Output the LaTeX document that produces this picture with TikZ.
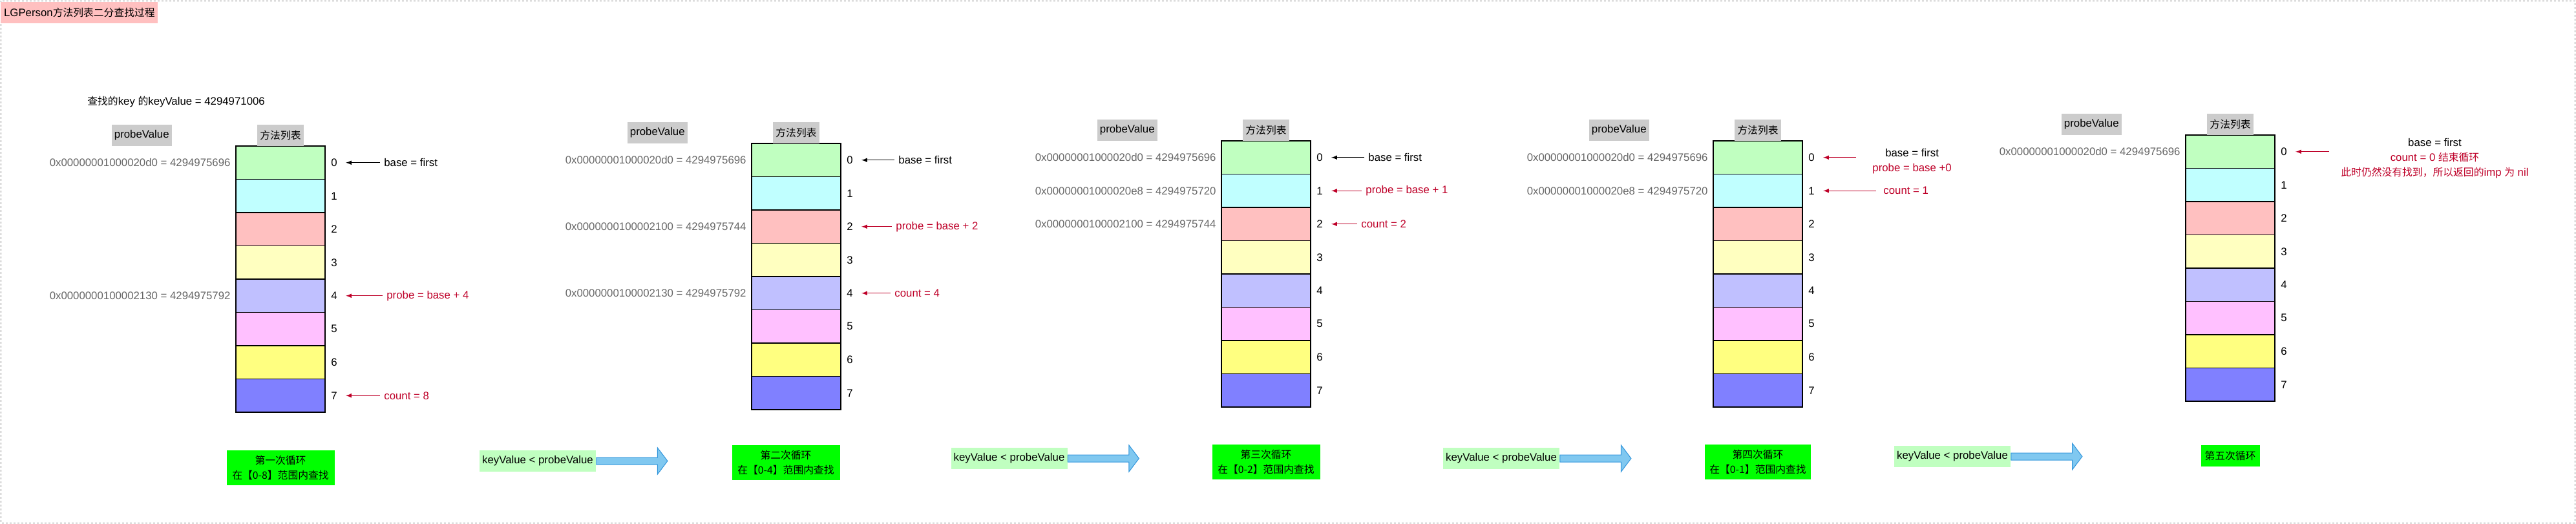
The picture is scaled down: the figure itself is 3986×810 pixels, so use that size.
\documentclass[tikz,border=0pt]{standalone}
\usepackage{fontspec}
\setmainfont{Liberation Sans}
\newfontfamily\cjk{Noto Sans CJK SC}[Scale=0.94]
\usetikzlibrary{positioning,shapes.arrows}

\definecolor{hint}{RGB}{190,0,40}
\definecolor{addrgray}{RGB}{102,102,102}
\definecolor{headgray}{RGB}{204,204,204}
\definecolor{loopgreen}{RGB}{0,255,0}
\definecolor{kvgreen}{RGB}{192,255,192}
\definecolor{titlepink}{RGB}{255,192,192}
\definecolor{arrowfill}{RGB}{128,200,240}
\definecolor{arrowline}{RGB}{50,150,220}
\definecolor{c0}{RGB}{192,255,192}
\definecolor{c1}{RGB}{192,255,255}
\definecolor{c2}{RGB}{255,192,192}
\definecolor{c3}{RGB}{255,255,192}
\definecolor{c4}{RGB}{192,192,255}
\definecolor{c5}{RGB}{255,192,255}
\definecolor{c6}{RGB}{255,255,128}
\definecolor{c7}{RGB}{128,128,255}

\begin{document}
\begin{tikzpicture}[x=0.5pt, y=-0.5pt, font=\fontsize{8.4}{11.5}\selectfont,
	cell/.style={rectangle, draw, line width=0.6pt, minimum width=69pt, minimum height=25.75pt, inner sep=0, outer sep=0},
	idx/.style={inner sep=1pt},
	head/.style={fill=headgray, minimum height=16.5pt, inner sep=2pt},
	addr/.style={text=addrgray, inner sep=1pt},
	note/.style={inner sep=1pt, align=center},
	loopbox/.style={fill=loopgreen, align=center, inner sep=2pt, font=\fontsize{8.4}{11.5}\selectfont\cjk},
	cmpbox/.style={fill=kvgreen, minimum width=90pt, minimum height=16.5pt, inner sep=1pt},
	bigarrow/.style={single arrow, draw=arrowline, fill=arrowfill, line width=0.5pt, minimum height=55pt, inner xsep=0pt, inner ysep=2.5pt, single arrow head extend=7.5pt, single arrow tip angle=106},
	links/.style={->, >=latex, line width=0.5pt, shorten >=5.5pt, shorten <=2pt}]

	\useasboundingbox (0,0) rectangle (3986,810);
	\draw[gray, line width=0.5pt, dash pattern=on 1.5pt off 1.5pt] (1,1) rectangle (3984,809);

	\node[fill=titlepink, anchor=north west, minimum width=121.5pt, minimum height=16.5pt, inner sep=1pt] (title) at (1,3) {LGPerson{\cjk 方法列表二分查找过程}};

	\node[anchor=west, inner sep=0] (keytext) at (135,158) {{\cjk 查找的}key {\cjk 的}keyValue = 4294971006};

	% the five copies of the list
	\foreach \c/\x/\y in {a/365/226, b/1163/222, c/1890/218, d/2651/218, e/3382/209} {
		\node[cell, fill=c0, anchor=north west] (\c0) at (\x,\y) {};
		\foreach \i [remember=\i as \p (initially 0)] in {1,...,7}
			\node[cell, fill=c\i, below=0pt of \c\p] (\c\i) {};
		\foreach \i in {0,...,7}
			\node[idx, right=3.5pt of \c\i] (i\c\i) {\i};
		\node[head, above=0pt of \c0] (list\c) {{\cjk 方法列表}};
		\node[head, left=66pt of list\c] (probe\c) {probeValue};
	}

	% first loop
	\node[addr, left=3pt of a0] (adra0) {0x00000001000020d0 = 4294975696};
	\node[addr, left=3pt of a4] (adra4) {0x0000000100002130 = 4294975792};
	\node[note, right=44.5pt of a0] (basea) {base = first};
	\node[note, text=hint, right=46.5pt of a4] (probea) {probe = base + 4};
	\node[note, text=hint, right=44.5pt of a7] (counta) {count = 8};
	\draw[links] (basea) -- (ia0);
	\draw[links, hint] (probea) -- (ia4);
	\draw[links, hint] (counta) -- (ia7);
	\node[loopbox, minimum width=83.5pt, minimum height=27pt, below=29.5pt of a7] (loopa) {第一次循环\\在【0-8】范围内查找};

	% second loop
	\node[addr, left=3pt of b0] (adrb0) {0x00000001000020d0 = 4294975696};
	\node[addr, left=3pt of b2] (adrb2) {0x0000000100002100 = 4294975744};
	\node[addr, left=3pt of b4] (adrb4) {0x0000000100002130 = 4294975792};
	\node[note, right=43.5pt of b0] (baseb) {base = first};
	\node[note, text=hint, right=41.5pt of b2] (probeb) {probe = base + 2};
	\node[note, text=hint, right=40.5pt of b4] (countb) {count = 4};
	\draw[links] (baseb) -- (ib0);
	\draw[links, hint] (probeb) -- (ib2);
	\draw[links, hint] (countb) -- (ib4);
	\node[loopbox, minimum width=83.5pt, minimum height=27pt, below=27.5pt of b7, xshift=-8pt] (loopb) {第二次循环\\在【0-4】范围内查找};

	% third loop
	\node[addr, left=3pt of c0] (adrc0) {0x00000001000020d0 = 4294975696};
	\node[addr, left=3pt of c1] (adrc1) {0x00000001000020e8 = 4294975720};
	\node[addr, left=3pt of c2] (adrc2) {0x0000000100002100 = 4294975744};
	\node[note, right=43.5pt of c0] (basec) {base = first};
	\node[note, text=hint, right=41.5pt of c1] (probec) {probe = base + 1};
	\node[note, text=hint, right=38pt of c2] (countc) {count = 2};
	\draw[links] (basec) -- (ic0);
	\draw[links, hint] (probec) -- (ic1);
	\draw[links, hint] (countc) -- (ic2);
	\node[loopbox, minimum width=83.5pt, minimum height=27pt, below=29pt of c7] (loopc) {第三次循环\\在【0-2】范围内查找};

	% fourth loop
	\node[addr, left=3pt of d0] (adrd0) {0x00000001000020d0 = 4294975696};
	\node[addr, left=3pt of d1] (adrd1) {0x00000001000020e8 = 4294975720};
	\node[note, right=53pt of d0, yshift=-3pt] (based) {base = first\\\textcolor{hint}{probe = base +0}};
	\coordinate[right=41.5pt of d0] (taild);
	\node[note, text=hint, right=61.5pt of d1] (countd) {count = 1};
	\draw[links, hint, shorten <=0pt] (taild) -- (id0);
	\draw[links, hint, shorten <=4.5pt] (countd) -- (id1);
	\node[loopbox, minimum width=82pt, minimum height=27pt, below=29pt of d7] (loopd) {第四次循环\\在【0-1】范围内查找};

	% fifth loop
	\node[addr, left=3pt of e0] (adre0) {0x00000001000020d0 = 4294975696};
	\node[note, right=50pt of e0, yshift=-5pt] (basee) {base = first\\\textcolor{hint}{count = 0 {\cjk 结束循环}}\\\textcolor{hint}{{\cjk 此时仍然没有找到，所以返回的}imp {\cjk 为} nil}};
	\coordinate[right=42pt of e0] (taile);
	\draw[links, hint, shorten <=0pt] (taile) -- (ie0);
	\node[loopbox, minimum width=45.5pt, minimum height=16.5pt, below=34pt of e7] (loope) {第五次循环};

	% comparisons between the loops
	\node[cmpbox] (kv1) at (832,713.5) {keyValue < probeValue};
	\node[cmpbox] (kv2) at (1561.5,709.5) {keyValue < probeValue};
	\node[cmpbox] (kv3) at (2323,709.5) {keyValue < probeValue};
	\node[cmpbox] (kv4) at (3021,706.5) {keyValue < probeValue};
	\node[bigarrow, right=0pt of kv1] (arrow1) {};
	\node[bigarrow, right=0pt of kv2] (arrow2) {};
	\node[bigarrow, right=0pt of kv3] (arrow3) {};
	\node[bigarrow, right=0pt of kv4] (arrow4) {};
\end{tikzpicture}
\end{document}
